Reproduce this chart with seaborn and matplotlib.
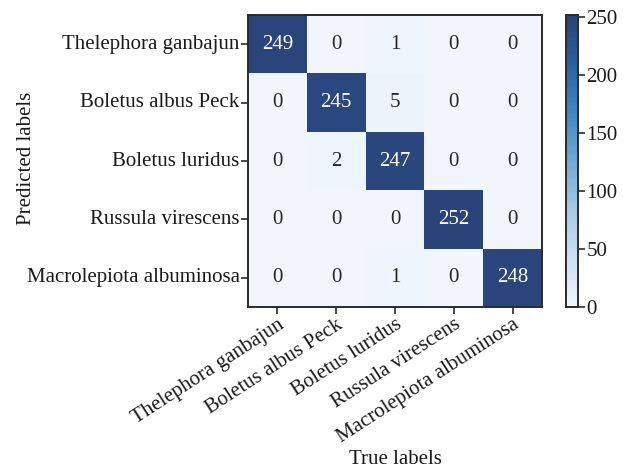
import numpy as np
import pandas as pd
import matplotlib
matplotlib.use("Agg")
import matplotlib.pyplot as plt
from matplotlib.colors import LinearSegmentedColormap
import seaborn as sns

classes = ["Thelephora ganbajun", "Boletus albus Peck", "Boletus luridus",
           "Russula virescens", "Macrolepiota albuminosa"]
row_0 = [249, 0, 1, 0, 0]
row_1 = [0, 245, 5, 0, 0]
row_2 = [0, 2, 247, 0, 0]
row_3 = [0, 0, 0, 252, 0]
row_4 = [0, 0, 1, 0, 248]
cbar_ticks = [0, 50, 100, 150, 200, 250]

cm = pd.DataFrame([row_0, row_1, row_2, row_3, row_4], index=classes, columns=classes)

# Soft blue ramp ending in a muted navy
blues = LinearSegmentedColormap.from_list(
    "soft_blues",
    ["#f0f6fc", "#cddff0", "#a5c9e2", "#6eaad3", "#4187bf", "#2a62a0", "#2a4378"],
)

sns.set_theme(style="white")
plt.rcParams["font.family"] = ["Liberation Serif", "DejaVu Serif"]

fig = plt.figure(figsize=(6.37, 4.70), dpi=100)
ax = fig.add_axes([248 / 637, 1 - 307 / 470, 294 / 637, 292 / 470])
cax = fig.add_axes([566 / 637, 1 - 307 / 470, 12 / 637, 292 / 470])

fs = 15

sns.heatmap(cm, annot=True, fmt="d", cmap=blues, vmin=0, vmax=cm.values.max(),
            ax=ax, cbar_ax=cax, cbar_kws={"ticks": cbar_ticks},
            annot_kws={"fontsize": fs}, linewidths=0)

for s in ax.spines.values():
    s.set_visible(True)
    s.set_linewidth(1.4)
    s.set_color("#2b2b2b")
for s in cax.spines.values():
    s.set_visible(True)
    s.set_linewidth(1.2)
    s.set_color("#2b2b2b")

ax.tick_params(axis="both", which="both", length=5, width=1.2, color="#2b2b2b",
               labelsize=fs, pad=1, left=True, bottom=True, labelcolor="#1a1a1a")
ax.set_xticklabels(classes, rotation=33, ha="right", rotation_mode="anchor")
ax.set_yticklabels(classes, rotation=0)
ax.set_xlabel("True labels", fontsize=fs, color="#1a1a1a")
ax.set_ylabel("Predicted labels", fontsize=fs, color="#1a1a1a")
ax.xaxis.set_label_coords(0.5, -0.49)
ax.yaxis.set_label_coords(-0.72, 0.51)

cax.tick_params(axis="y", length=5, width=1.2, color="#2b2b2b", labelsize=fs,
                pad=1, right=True, labelcolor="#1a1a1a")

fig.savefig("out.png", dpi=100)
